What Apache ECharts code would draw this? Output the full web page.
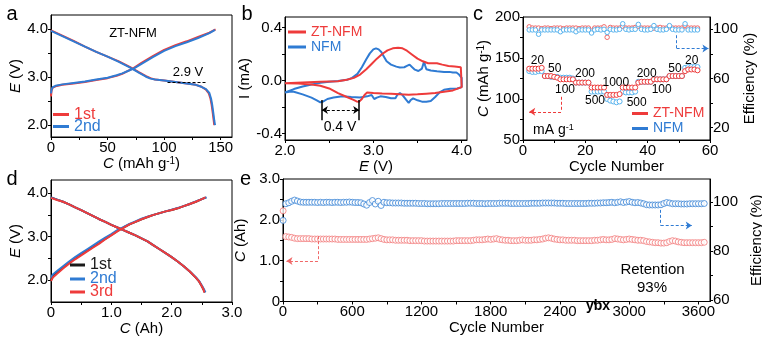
<!DOCTYPE html>
<html>
<head>
<meta charset="utf-8">
<script src="https://cdn.jsdelivr.net/npm/echarts@6/dist/echarts.min.js"></script>
<style>
html,body{margin:0;padding:0;background:#fff}
#chart{width:762px;height:341px}
</style>
</head>
<body>
<div id="chart"></div>
<script>
// ---------- (a) ZT-NFM galvanostatic profiles: [capacity mAh g-1, voltage V]
const aCharge1 = [[0,2.6],[0.5,2.72],[1.5,2.78],[4,2.81],[10,2.84],[20,2.87],[30,2.9],[40,2.94],[50,2.98],[58,3.03],[63,3.07],[68,3.13],[73,3.19],[80,3.3],[90,3.44],[100,3.57],[110,3.67],[120,3.75],[130,3.84],[140,3.93],[145.5,4.0]];
const aDischarge1 = [[0,3.98],[10,3.87],[20,3.76],[30,3.64],[40,3.53],[50,3.43],[60,3.33],[70,3.21],[78,3.1],[84,3.02],[88,2.98],[92,2.95],[100,2.93],[110,2.9],[120,2.87],[128,2.84],[133,2.8],[137,2.74],[139.5,2.66],[141,2.55],[142,2.42],[143,2.25],[143.8,2.1],[144.3,2.0]];
const aCharge2 = [[0,2.66],[0.5,2.74],[1.5,2.79],[4,2.82],[10,2.85],[20,2.88],[30,2.91],[40,2.95],[50,2.99],[58,3.04],[63,3.08],[68,3.13],[73,3.18],[80,3.28],[90,3.42],[100,3.55],[110,3.65],[120,3.73],[130,3.82],[140,3.92],[145,3.99]];
const aDischarge2 = [[0,3.97],[10,3.86],[20,3.75],[30,3.64],[40,3.53],[50,3.43],[60,3.32],[70,3.2],[78,3.09],[84,3.01],[88,2.97],[92,2.95],[100,2.93],[110,2.9],[120,2.87],[128,2.84],[133,2.8],[137,2.75],[140,2.67],[141.5,2.55],[142.5,2.42],[143.5,2.25],[144.3,2.1],[145,2.0]];
const aPlateauV = 2.9;
const aPlateauSpan = [103, 137];

// ---------- (b) cyclic voltammetry: [potential V, current mA]
const bZtNfm = [[2.0,-0.02],[2.2,-0.015],[2.4,-0.01],[2.6,-0.005],[2.7,0.005],[2.78,0.02],[2.85,0.045],[2.92,0.085],[2.98,0.125],[3.04,0.165],[3.1,0.2],[3.16,0.228],[3.22,0.243],[3.28,0.248],[3.33,0.243],[3.38,0.225],[3.44,0.195],[3.5,0.165],[3.56,0.145],[3.62,0.13],[3.68,0.13],[3.72,0.13],[3.78,0.12],[3.85,0.11],[3.92,0.105],[3.99,0.1],[4.0,0.09],[4.0,-0.05],[3.98,-0.065],[3.9,-0.075],[3.8,-0.085],[3.7,-0.095],[3.6,-0.1],[3.5,-0.105],[3.4,-0.108],[3.3,-0.105],[3.2,-0.1],[3.1,-0.098],[3.0,-0.095],[2.93,-0.09],[2.9,-0.11],[2.87,-0.14],[2.84,-0.16],[2.81,-0.158],[2.77,-0.145],[2.7,-0.125],[2.6,-0.095],[2.5,-0.06],[2.4,-0.04],[2.3,-0.03],[2.15,-0.022],[2.0,-0.02]];
const bNfm = [[2.0,-0.09],[2.1,-0.065],[2.2,-0.045],[2.3,-0.03],[2.4,-0.018],[2.5,-0.01],[2.6,-0.004],[2.7,0.005],[2.76,0.02],[2.82,0.05],[2.87,0.1],[2.92,0.16],[2.96,0.205],[3.0,0.235],[3.03,0.243],[3.06,0.235],[3.09,0.215],[3.12,0.18],[3.15,0.145],[3.2,0.12],[3.26,0.105],[3.3,0.098],[3.35,0.1],[3.38,0.11],[3.41,0.12],[3.44,0.1],[3.47,0.082],[3.51,0.072],[3.55,0.09],[3.575,0.145],[3.585,0.115],[3.6,0.085],[3.65,0.075],[3.72,0.07],[3.8,0.065],[3.86,0.065],[3.9,0.06],[3.94,0.06],[3.97,0.045],[4.0,0.02],[4.0,-0.05],[3.95,-0.06],[3.87,-0.062],[3.8,-0.07],[3.75,-0.09],[3.7,-0.125],[3.65,-0.155],[3.6,-0.16],[3.55,-0.16],[3.5,-0.15],[3.45,-0.135],[3.42,-0.15],[3.4,-0.17],[3.37,-0.145],[3.33,-0.11],[3.3,-0.095],[3.27,-0.11],[3.25,-0.135],[3.2,-0.135],[3.14,-0.125],[3.08,-0.12],[3.04,-0.13],[3.01,-0.14],[2.98,-0.11],[2.93,-0.12],[2.85,-0.128],[2.75,-0.125],[2.65,-0.12],[2.55,-0.128],[2.48,-0.14],[2.43,-0.16],[2.4,-0.165],[2.36,-0.15],[2.3,-0.13],[2.2,-0.105],[2.1,-0.085],[2.05,-0.085],[2.0,-0.09]];
const bPeakShift = [2.417, 2.84];

// ---------- (c) rate capability
const cCycles = [2,3,4,5,6,7,8,9,10,11,12,13,14,15,16,17,18,19,20,21,22,23,24,25,26,27,28,29,30,31,32,33,34,35,36,37,38,39,40,41,42,43,44,45,46,47,48,49,50,51,52,53,54,55,56];
const cZtCap = [137,137,137,137,138, 128,128,128,127,126, 124,124,124,124,124, 120,120,120,120,120, 114,114,114,114,114, 105,105,105,105,106, 114,114,114,114,114, 120,121,121,121,121, 124,124,124,124,124, 128,128,128,128,128, 134,136,136,136,135];
const cNfmCap = [134,133,133,134,134, 128,128,127,127,127, 126,126,126,126,125, 120,120,120,120,120, 109,109,109,109,109, 100,98,97,96,97, 109,108,108,108,109, 121,121,121,121,121, 124,124,124,124,124, 128,128,128,128,128, 138,139,139,139,139];
const cZtEff = [102.0,101.0,101.0,101.0,100.5, 101.0,101.0,100.5,101.0,101.0, 101.0,100.5,101.0,101.0,101.0, 101.0,100.5,101.0,101.0,101.0, 98.5,101.0,101.0,101.0,102.0, 93.5,101.5,101.0,101.0,101.0, 102.5,101.0,101.0,101.0,101.5, 102.5,101.0,101.0,101.0,101.0, 101.0,101.0,101.5,101.0,101.0, 102.0,101.0,101.0,101.0,101.0, 103.0,101.0,101.0,101.0,101.0];
const cNfmEff = [99.5,99.5,99.5,96.0,99.5, 99.5,99.5,99.5,99.5,99.5, 98.0,99.5,99.5,99.5,99.5, 98.0,99.5,99.5,99.5,99.5, 97.0,99.5,100.0,99.5,100.0, 97.5,100.0,99.5,99.5,100.0, 104.5,100.0,99.5,100.0,100.0, 104.0,100.0,99.5,99.5,100.0, 103.0,100.0,99.5,99.5,100.0, 103.0,100.0,99.5,99.5,99.5, 104.5,99.5,99.5,99.5,99.5];
const cRateLabels = ['20','50','100','200','500','1000','500','200','100','50','20'];

// ---------- (d) pouch cell profiles: [capacity Ah, voltage V]
const dCharge1 = [[0,2.0],[0.03,2.08],[0.1,2.17],[0.2,2.29],[0.3,2.4],[0.4,2.5],[0.5,2.59],[0.6,2.68],[0.7,2.77],[0.8,2.86],[0.9,2.95],[1.0,3.04],[1.1,3.13],[1.2,3.21],[1.3,3.28],[1.4,3.34],[1.5,3.4],[1.6,3.45],[1.7,3.5],[1.8,3.54],[1.9,3.58],[2.0,3.61],[2.1,3.65],[2.2,3.7],[2.3,3.75],[2.4,3.8],[2.5,3.86],[2.57,3.9]];
const dDischarge1 = [[0,3.9],[0.1,3.85],[0.2,3.8],[0.3,3.74],[0.4,3.67],[0.5,3.61],[0.6,3.54],[0.7,3.47],[0.8,3.4],[0.9,3.34],[1.0,3.27],[1.1,3.21],[1.2,3.15],[1.3,3.09],[1.4,3.03],[1.5,2.96],[1.6,2.89],[1.7,2.8],[1.8,2.71],[1.9,2.62],[2.0,2.53],[2.1,2.43],[2.2,2.32],[2.3,2.2],[2.4,2.06],[2.45,1.98],[2.5,1.86],[2.53,1.78],[2.55,1.72]];
const dCharge2 = [[0,2.06],[0.03,2.13],[0.1,2.21],[0.2,2.32],[0.3,2.43],[0.4,2.53],[0.5,2.62],[0.6,2.71],[0.7,2.8],[0.8,2.89],[0.9,2.98],[1.0,3.06],[1.1,3.15],[1.2,3.22],[1.3,3.29],[1.4,3.35],[1.5,3.41],[1.6,3.46],[1.7,3.5],[1.8,3.54],[1.9,3.58],[2.0,3.62],[2.1,3.66],[2.2,3.7],[2.3,3.75],[2.4,3.81],[2.5,3.86],[2.58,3.9]];
const dDischarge2 = [[0,3.9],[0.1,3.85],[0.2,3.8],[0.3,3.74],[0.4,3.67],[0.5,3.61],[0.6,3.54],[0.7,3.47],[0.8,3.4],[0.9,3.34],[1.0,3.27],[1.1,3.21],[1.2,3.15],[1.3,3.09],[1.4,3.03],[1.5,2.96],[1.6,2.89],[1.7,2.8],[1.8,2.71],[1.9,2.62],[2.0,2.53],[2.1,2.43],[2.2,2.32],[2.3,2.2],[2.4,2.07],[2.45,1.99],[2.5,1.88],[2.54,1.78],[2.56,1.72]];
const dCharge3 = [[0,1.98],[0.03,2.06],[0.1,2.15],[0.2,2.27],[0.3,2.38],[0.4,2.48],[0.5,2.57],[0.6,2.66],[0.7,2.75],[0.8,2.84],[0.9,2.94],[1.0,3.03],[1.1,3.12],[1.2,3.2],[1.3,3.28],[1.4,3.34],[1.5,3.4],[1.6,3.45],[1.7,3.5],[1.8,3.54],[1.9,3.58],[2.0,3.61],[2.1,3.65],[2.2,3.7],[2.3,3.75],[2.4,3.8],[2.5,3.86],[2.56,3.9]];
const dDischarge3 = [[0,3.89],[0.1,3.84],[0.2,3.8],[0.3,3.74],[0.4,3.67],[0.5,3.61],[0.6,3.54],[0.7,3.47],[0.8,3.4],[0.9,3.34],[1.0,3.27],[1.1,3.21],[1.2,3.15],[1.3,3.09],[1.4,3.03],[1.5,2.96],[1.6,2.89],[1.7,2.8],[1.8,2.71],[1.9,2.62],[2.0,2.53],[2.1,2.43],[2.2,2.32],[2.3,2.2],[2.4,2.06],[2.45,1.98],[2.5,1.86],[2.53,1.78],[2.54,1.72]];

// ---------- (e) long-term cycling, one reading every 25 cycles after the first
const eStep = 25;
const eFirstCycle = 1;
const eFirstCap = 2.22;
const eFirstEff = 92.5;
const eCap = [1.59,1.58,1.57,1.55, 1.54,1.54,1.54,1.54, 1.54,1.53,1.53,1.53, 1.53,1.53,1.53,1.53, 1.53,1.53,1.52,1.52, 1.52,1.52,1.52,1.52, 1.52,1.52,1.52,1.52, 1.52,1.53,1.54,1.55, 1.56,1.54,1.52,1.51, 1.51,1.51,1.50,1.50, 1.50,1.50,1.50,1.49, 1.49,1.49,1.49,1.49, 1.48,1.48,1.48,1.48, 1.48,1.48,1.48,1.48, 1.48,1.48,1.48,1.49, 1.49,1.49,1.49,1.49, 1.49,1.50,1.51,1.51, 1.51,1.52,1.53,1.52, 1.53,1.54,1.52,1.51, 1.50,1.50,1.49,1.49, 1.49,1.50,1.51,1.50, 1.50,1.50,1.51,1.51, 1.52,1.53,1.55,1.56, 1.55,1.53,1.52,1.51, 1.51,1.50,1.50,1.50, 1.50,1.49,1.49,1.49, 1.49,1.49,1.49,1.50, 1.50,1.51,1.52,1.51, 1.51,1.52,1.54,1.53, 1.52,1.51,1.52,1.53, 1.52,1.51,1.50,1.50, 1.49,1.47,1.46,1.45, 1.44,1.44,1.43,1.43, 1.44,1.47,1.49,1.48, 1.46,1.45,1.44,1.44, 1.44,1.44,1.44,1.44, 1.44,1.45];
const eEff = [99.3,99.7,100.3,100.8, 100.4,100.0,99.9,99.9, 99.9,99.9,99.9,99.8, 99.9,99.8,99.9,99.9, 99.8,99.9,99.9,99.8, 99.9,99.9,100.0,99.9, 99.8,99.8,99.7,99.2, 98.7,99.8,100.6,99.2, 100.3,98.6,99.9,99.7, 99.7,99.6,99.6,99.6, 99.6,99.5,99.5,99.5, 99.5,99.5,99.4,99.4, 99.4,99.3,99.3,99.3, 99.3,99.3,99.4,99.4, 99.4,99.4,99.4,99.4, 99.4,99.4,99.4,99.5, 99.5,99.5,99.4,99.4, 99.4,99.3,99.4,99.4, 99.4,99.4,99.5,99.5, 99.5,99.5,99.4,99.4, 99.4,99.4,99.4,99.4, 99.4,99.5,99.5,99.5, 99.5,99.6,99.6,99.6, 99.6,99.6,99.5,99.5, 99.5,99.4,99.4,99.4, 99.4,99.4,99.4,99.4, 99.4,99.5,99.5,99.5, 99.6,99.6,99.7,99.7, 99.8,99.9,99.7,99.9, 100.1,99.8,100.0,100.2, 99.9,99.7,99.8,99.6, 99.3,98.9,98.8,98.8, 98.8,98.8,98.9,99.4, 99.8,99.6,99.3,99.3, 99.3,99.2,99.2,99.2, 99.3,99.3,99.3,99.3, 99.3,99.4];

// ---------- styling
const FONT = '"Liberation Sans", Arial, Helvetica, sans-serif';
const RED = '#ee3b3b';
const BLUE = '#2f7bd3';
const SKY = '#58b3ee';
const ROSE = '#f06868';
const PINK = '#f27a7a';
const BLACK = '#1a1a1a';

const RICH = {
  i: { fontStyle: 'italic', fontSize: 15, fontFamily: FONT, color: '#000' },
  s: { fontSize: 10, fontFamily: FONT, color: '#000', verticalAlign: 'top' }
};

function deepMerge(a, b) {
  const out = Object.assign({}, a);
  for (const k in b) {
    const v = b[k];
    if (v && typeof v === 'object' && !Array.isArray(v) && a && a[k] && typeof a[k] === 'object' && !Array.isArray(a[k])) {
      out[k] = deepMerge(a[k], v);
    } else {
      out[k] = v;
    }
  }
  return out;
}

const axisBase = {
  type: 'value',
  axisLine: { show: true, onZero: false, lineStyle: { color: '#000', width: 1 } },
  axisTick: { show: true, inside: false, length: 3, lineStyle: { color: '#000', width: 1 } },
  minorTick: { show: false },
  splitLine: { show: false },
  axisLabel: { color: '#000', fontSize: 15, fontFamily: FONT, margin: 3, formatter: v => String(v) },
  nameLocation: 'middle',
  nameTextStyle: { color: '#000', fontSize: 15, fontFamily: FONT, rich: RICH }
};
const ax = extra => deepMerge(axisBase, extra);
const oneDec = v => v.toFixed(1);
const zeroOrOneDec = v => (v === 0 ? '0' : v.toFixed(1));

function grid(left, top, width, height) {
  return { left, top, width, height, show: true, borderColor: '#000', borderWidth: 1,
           backgroundColor: 'transparent', containLabel: false, outerBoundsMode: 'none' };
}

function lineSeries(name, xi, yi, data, color, width) {
  return { name, type: 'line', xAxisIndex: xi, yAxisIndex: yi, data,
           symbol: 'none', showSymbol: false, smooth: false, animation: false, silent: true,
           lineStyle: { color, width: width || 2 }, itemStyle: { color },
           emphasis: { disabled: true } };
}

function ringSeries(name, xi, yi, data, color, size, lineWidth) {
  return { name, type: 'line', xAxisIndex: xi, yAxisIndex: yi, data,
           symbol: 'circle', symbolSize: size, showSymbol: true, showAllSymbol: true,
           animation: false, silent: true,
           lineStyle: { color, width: lineWidth, opacity: lineWidth ? 1 : 0 },
           itemStyle: { color: '#fff', borderColor: color, borderWidth: 1 },
           emphasis: { disabled: true } };
}

function dashedArrow(color, pts) {
  // pts: corner path [start, corner, end]; arrowhead on the final segment
  return {
    silent: true, animation: false, symbol: ['none', 'none'], symbolSize: 6,
    label: { show: false }, emphasis: { disabled: true },
    lineStyle: { color, type: [3, 2], width: 1 },
    data: [
      [{ coord: pts[0] }, { coord: pts[1] }],
      [{ coord: pts[1] }, { coord: pts[2], symbol: 'arrow' }]
    ]
  };
}

function legendOne(name, color, left, cy, fs, iconW) {
  return {
    show: true, orient: 'vertical', left, top: cy - fs / 2, padding: 0, itemGap: 0,
    itemWidth: iconW, itemHeight: 3, icon: 'rect', selectedMode: false,
    formatter: n => n.split('|')[1],
    textStyle: { fontSize: fs, fontFamily: FONT, lineHeight: fs, color },
    data: [{ name, itemStyle: { color, borderColor: color, borderWidth: 0 }, textStyle: { color } }]
  };
}

function txt(text, x, y, size, extra) {
  return { type: 'text', x, y, silent: true, z: 100,
           style: Object.assign({ text, fontSize: size, fontFamily: FONT, fill: '#000',
                                  align: 'center', verticalAlign: 'middle' }, extra || {}) };
}

const pair = (xs, ys) => xs.map((x, i) => [x, ys[i]]);
const eCapData = [[eFirstCycle, eFirstCap]].concat(eCap.map((v, i) => [(i + 1) * eStep, v]));
const eEffData = [[eFirstCycle, eFirstEff]].concat(eEff.map((v, i) => [(i + 1) * eStep, v]));

// ---------- series
const series = [];
// (a)
series.push(lineSeries('a|1st', 0, 0, aCharge1, RED));
series.push(Object.assign(lineSeries('a|1st', 0, 0, aDischarge1, RED), {
  markLine: {
    silent: true, animation: false, symbol: ['none', 'none'], label: { show: false },
    emphasis: { disabled: true }, lineStyle: { color: '#000', type: [3, 2], width: 1.2 },
    data: [[{ coord: [aPlateauSpan[0], aPlateauV] }, { coord: [aPlateauSpan[1], aPlateauV] }]]
  }
}));
series.push(lineSeries('a|2nd', 0, 0, aCharge2, BLUE));
series.push(lineSeries('a|2nd', 0, 0, aDischarge2, BLUE));
// (b)
series.push(lineSeries('b|NFM', 1, 1, bNfm, BLUE));
series.push(Object.assign(lineSeries('b|ZT-NFM', 1, 1, bZtNfm, RED), {
  markLine: {
    silent: true, animation: false, symbol: ['none', 'none'], symbolSize: 6, label: { show: false },
    emphasis: { disabled: true }, lineStyle: { color: '#000', type: 'solid', width: 1.5 },
    data: [
      [{ coord: [bPeakShift[0], -0.148] }, { coord: [bPeakShift[0], -0.30] }],
      [{ coord: [bPeakShift[1], -0.148] }, { coord: [bPeakShift[1], -0.30] }],
      [{ coord: [bPeakShift[0], -0.224], symbol: 'arrow', lineStyle: { type: [3, 2], width: 1 } },
       { coord: [bPeakShift[1], -0.224], symbol: 'arrow' }]
    ]
  }
}));
// (c)
series.push(ringSeries('c|NFM', 2, 2, pair(cCycles, cNfmCap), SKY, 5, 0));
series.push(Object.assign(ringSeries('c|ZT-NFM', 2, 2, pair(cCycles, cZtCap), RED, 5, 0), {
  markLine: dashedArrow(RED, [[12.2, 102.7], [12.2, 84.4], [2.0, 84.4]])
}));
series.push(ringSeries('c|ZT-NFM', 2, 3, pair(cCycles, cZtEff), ROSE, 4.5, 1));
series.push(Object.assign(ringSeries('c|NFM', 2, 3, pair(cCycles, cNfmEff), SKY, 4.5, 1), {
  markLine: dashedArrow(BLUE, [[49.3, 95.2], [49.3, 84.4], [59.5, 84.4]])
}));
// (d)
series.push(lineSeries('d|1st', 3, 4, dCharge1, BLACK));
series.push(lineSeries('d|1st', 3, 4, dDischarge1, BLACK));
series.push(lineSeries('d|2nd', 3, 4, dCharge2, BLUE));
series.push(lineSeries('d|2nd', 3, 4, dDischarge2, BLUE));
series.push(lineSeries('d|3rd', 3, 4, dCharge3, RED));
series.push(lineSeries('d|3rd', 3, 4, dDischarge3, RED));
// (e)
series.push({
  name: 'e|capacity', type: 'scatter', xAxisIndex: 4, yAxisIndex: 5, data: eCapData,
  symbol: 'circle', symbolSize: 6, animation: false, silent: true,
  itemStyle: { color: '#fff', borderColor: PINK, borderWidth: 1 }, emphasis: { disabled: true },
  markLine: dashedArrow(ROSE, [[303, 1.6], [303, 0.99], [30, 0.99]])
});
series.push({
  name: 'e|efficiency', type: 'scatter', xAxisIndex: 4, yAxisIndex: 6, data: eEffData,
  symbol: 'circle', symbolSize: 6, animation: false, silent: true,
  itemStyle: { color: '#fff', borderColor: '#3b84d6', borderWidth: 1 }, emphasis: { disabled: true },
  markLine: dashedArrow(BLUE, [[3273, 96.8], [3273, 90.4], [3542, 90.4]])
});

// ---------- option
const option = {
  animation: false,
  backgroundColor: '#fff',
  textStyle: { fontFamily: FONT },
  grid: [
    grid(51, 15, 181, 122),   // a
    grid(285, 17, 182, 123),  // b
    grid(523, 17, 187, 123),  // c
    grid(51, 180, 181, 122),  // d
    grid(283, 179, 427, 122.5) // e
  ],
  xAxis: [
    ax({ gridIndex: 0, min: 0, max: 160, name: '{i|C} (mAh g{s|-1})', nameGap: 17,
         axisLabel: { customValues: [0, 50, 100, 150] }, axisTick: { customValues: [0, 25, 50, 75, 100, 125, 150] } }),
    ax({ gridIndex: 1, min: 2.0, max: 4.06, name: '{i|E} (V)', nameGap: 15,
         axisLabel: { customValues: [2, 3, 4], formatter: oneDec }, axisTick: { customValues: [2, 2.5, 3, 3.5, 4] } }),
    ax({ gridIndex: 2, min: 0, max: 60, name: 'Cycle Number', nameGap: 14,
         axisLabel: { customValues: [0, 20, 40, 60] }, axisTick: { customValues: [0, 10, 20, 30, 40, 50, 60] } }),
    ax({ gridIndex: 3, min: 0, max: 3, name: '{i|C} (Ah)', nameGap: 14,
         axisLabel: { customValues: [0, 1, 2, 3], formatter: zeroOrOneDec }, axisTick: { customValues: [0, 0.5, 1, 1.5, 2, 2.5, 3] } }),
    ax({ gridIndex: 4, min: 0, max: 3700, name: 'Cycle Number', nameGap: 14,
         axisLabel: { customValues: [0, 600, 1200, 1800, 2400, 3000, 3600] },
         axisTick: { customValues: [0, 300, 600, 900, 1200, 1500, 1800, 2100, 2400, 2700, 3000, 3300, 3600] } })
  ],
  yAxis: [
    ax({ gridIndex: 0, min: 1.75, max: 4.3, name: '{i|E} (V)', nameRotate: 90, nameGap: 27,
         axisLabel: { customValues: [2, 3, 4], formatter: oneDec }, axisTick: { customValues: [2, 2.5, 3, 3.5, 4] } }),
    ax({ gridIndex: 1, min: -0.45, max: 0.48, name: 'I (mA)', nameRotate: 90, nameGap: 28,
         axisLabel: { customValues: [-0.4, 0, 0.4], formatter: oneDec }, axisTick: { customValues: [-0.4, -0.2, 0, 0.2, 0.4] } }),
    ax({ gridIndex: 2, min: 50, max: 200, name: '{i|C} (mAh g{s|-1})', nameRotate: 90, nameGap: 25,
         axisLabel: { customValues: [50, 100, 150, 200] }, axisTick: { customValues: [50, 75, 100, 125, 150, 175, 200] } }),
    ax({ gridIndex: 2, position: 'right', min: 10, max: 110, name: 'Efficiency (%)', nameRotate: 90, nameGap: 26,
         axisLabel: { customValues: [20, 60, 100] }, axisTick: { customValues: [20, 40, 60, 80, 100] } }),
    ax({ gridIndex: 3, min: 1.5, max: 4.3, name: '{i|E} (V)', nameRotate: 90, nameGap: 27,
         axisLabel: { customValues: [2, 3, 4], formatter: oneDec }, axisTick: { customValues: [2, 2.5, 3, 3.5, 4] } }),
    ax({ gridIndex: 4, min: 0, max: 3, name: '{i|C} (Ah)', nameRotate: 90, nameGap: 26,
         axisLabel: { customValues: [0, 1, 2, 3], formatter: zeroOrOneDec }, axisTick: { customValues: [0, 0.5, 1, 1.5, 2, 2.5, 3] } }),
    ax({ gridIndex: 4, position: 'right', min: 59.4, max: 109.4, name: 'Efficiency (%)', nameRotate: 90, nameGap: 28,
         axisLabel: { customValues: [60, 80, 100] }, axisTick: { customValues: [60, 70, 80, 90, 100] } })
  ],
  legend: [
    legendOne('a|1st', RED, 53, 114.5, 16, 16),
    legendOne('a|2nd', BLUE, 53, 126.5, 16, 16),
    legendOne('b|ZT-NFM', RED, 288, 32, 14, 18),
    legendOne('b|NFM', BLUE, 288, 47, 14, 18),
    legendOne('c|ZT-NFM', RED, 632, 113.5, 14, 16),
    legendOne('c|NFM', BLUE, 632, 128.5, 14, 16),
    legendOne('d|1st', BLACK, 70, 265, 16, 15),
    legendOne('d|2nd', BLUE, 70, 279, 16, 15),
    legendOne('d|3rd', RED, 70, 292, 16, 15)
  ],
  series,
  graphic: [
    txt('a', 6.5, 14, 20, { align: 'left' }),
    txt('b', 241.5, 14, 20, { align: 'left' }),
    txt('c', 473, 14, 20, { align: 'left' }),
    txt('d', 6.5, 179, 20, { align: 'left' }),
    txt('e', 240, 179, 20, { align: 'left' }),
    txt('ZT-NFM', 133, 33, 13),
    txt('2.9 V', 188, 72, 13),
    txt('0.4 V', 340, 127, 14),
    txt(cRateLabels[0], 537.5, 60.5, 12),
    txt(cRateLabels[1], 554.7, 68.3, 12),
    txt(cRateLabels[2], 565, 89.2, 12),
    txt(cRateLabels[3], 585, 73.3, 12),
    txt(cRateLabels[4], 595, 100.8, 12),
    txt(cRateLabels[5], 615.8, 82.5, 12),
    txt(cRateLabels[6], 636.7, 102.5, 12),
    txt(cRateLabels[7], 646.7, 73.3, 12),
    txt(cRateLabels[8], 661.7, 90, 12),
    txt(cRateLabels[9], 675, 68.3, 12),
    txt(cRateLabels[10], 691.7, 60.8, 12),
    txt('mA g{s|-1}', 533, 130, 14, { align: 'left', rich: { s: { fontSize: 9, fontFamily: FONT, verticalAlign: 'top' } } }),
    txt('Retention', 652.5, 270, 15),
    txt('93%', 652, 288.3, 15),
    txt('ybx', 598, 306.5, 14, { fontWeight: 'bold' })
  ]
};

const chart = echarts.init(document.getElementById('chart'), null, { renderer: 'canvas', width: 762, height: 341 });
chart.setOption(option);
</script>
</body>
</html>
